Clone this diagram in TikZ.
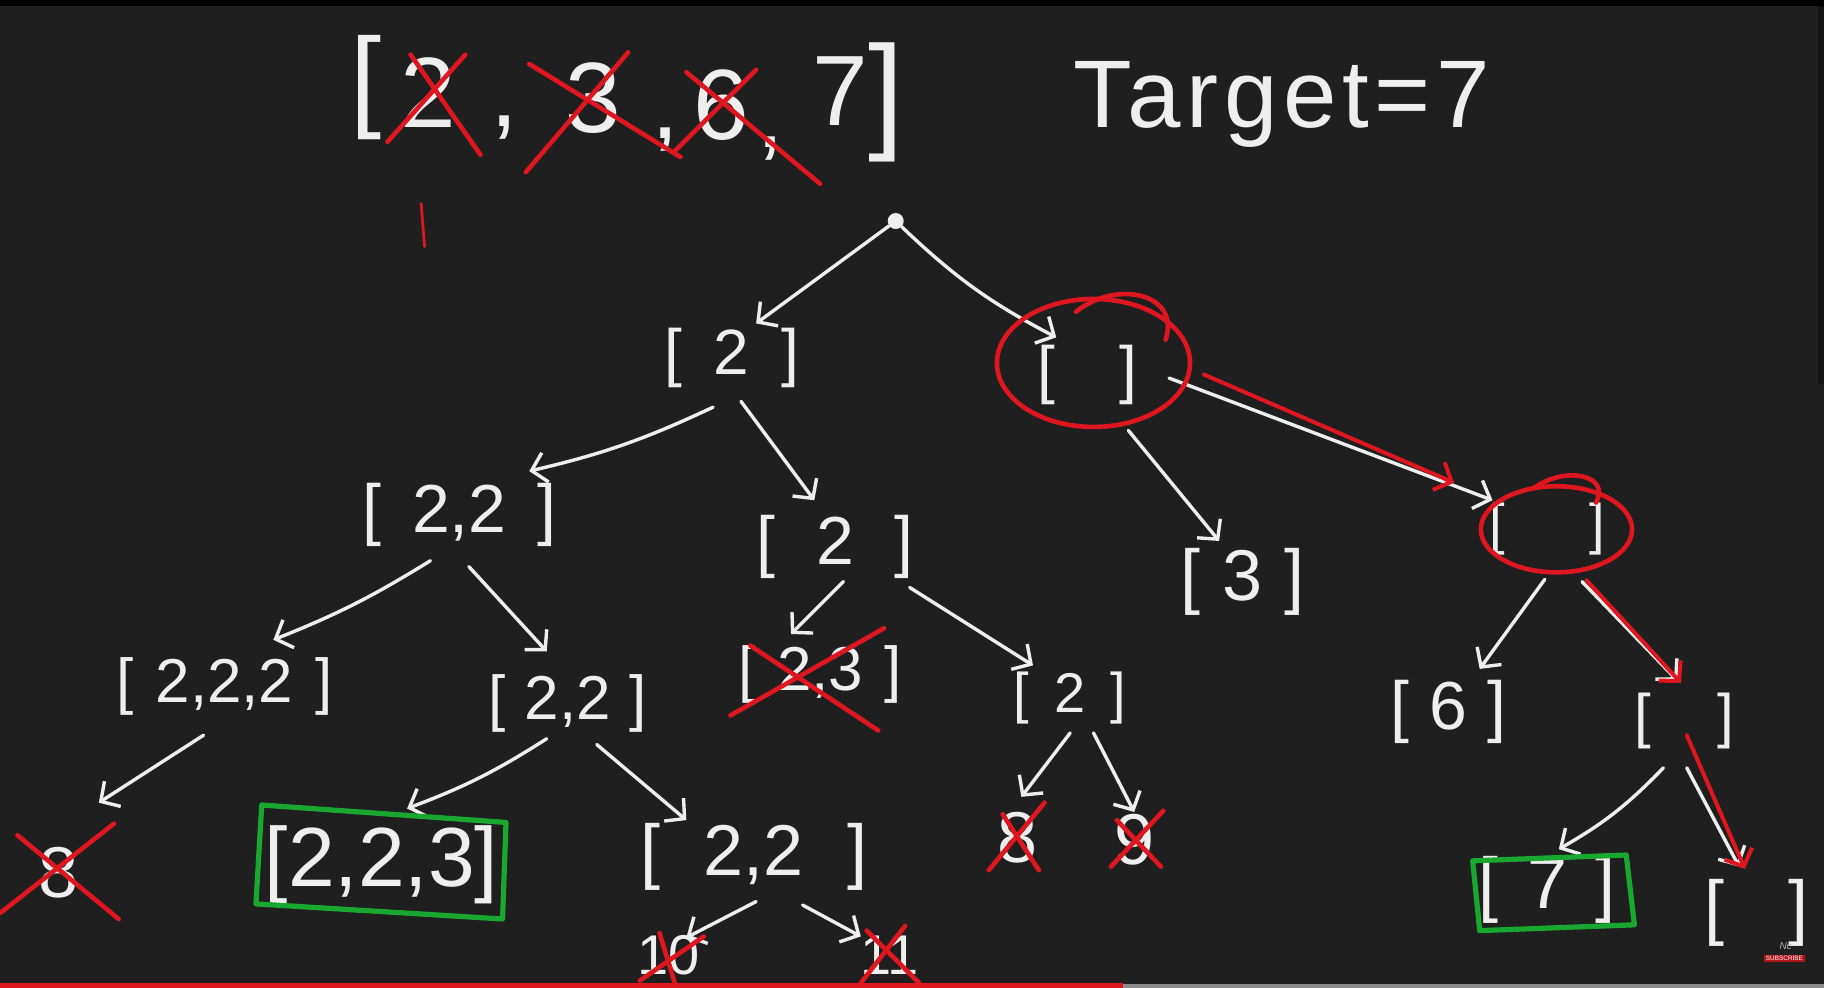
\documentclass[tikz,border=0pt]{standalone}
\usepackage{fontspec}
\setmainfont{Liberation Sans}
\usetikzlibrary{arrows.meta,calc}
\definecolor{bg}{RGB}{31,31,31}
\definecolor{chalk}{RGB}{238,238,238}
\definecolor{penred}{RGB}{222,22,32}
\definecolor{okgreen}{RGB}{24,168,48}
\newcommand{\lst}[2][0.5em]{[\hspace{#1}#2\hspace{#1}]}
\newcommand{\fs}[1]{\fontsize{#1}{#1}\selectfont}
\begin{document}
\begin{tikzpicture}[x=0.58165pt,y=-0.58165pt,
  every node/.style={text=chalk, inner sep=1pt},
  arr/.style={draw=chalk, line width=1.7pt, line cap=round, line join=round, -{Straight Barb[length=7pt,width=15pt,line width=1.7pt]}},
  redarr/.style={draw=penred, line width=2pt, line cap=round, line join=round, -{Straight Barb[length=7pt,width=15pt,line width=2pt]}},
  cross/.style={draw=penred, line width=2.3pt, line cap=round},
  ring/.style={draw=penred, line width=2.3pt, line cap=round},
  okbox/.style={draw=okgreen, line width=2.6pt, line join=round},
]
\fill[bg] (0,0) rectangle (1568,849);
\useasboundingbox (0,0) rectangle (1568,849);
\clip (0,0) rectangle (1568,849);
\fill[black] (0,0) rectangle (1568,5);
\fill[black!40!bg] (1563,5) rectangle (1568,330);

% ---------- top array ----------
\node[font=\fs{56}] (lb) at (315,75) {[};
\node[font=\fs{50}] (a2) at (368,80) {2};
\node[font=\fs{50}] (c1) at (434,110) {,};
\node[font=\fs{50}] (a3) at (510,84) {3};
\node[font=\fs{50}] (c2) at (572,120) {,};
\node[font=\fs{50}] (a6) at (620,90) {6};
\node[font=\fs{50}] (c3) at (662,128) {,};
\node[font=\fs{50}] (a7) at (722,78) {7};
\node[font=\fs{64}] (rb) at (762,88) {]};
\draw[cross] (333,122) -- (400,47);
\draw[cross] (353,47) -- (413,133);
\draw[cross] (452,148) -- (540,45);
\draw[cross] (455,55) -- (585,135);
\draw[cross] (580,130) -- (650,60);
\draw[cross] (590,62) -- (705,158);
\draw[draw=penred, line width=1.4pt, line cap=round] (362,175) -- (365,212);

\node[font=\fs{48}\addfontfeature{LetterSpace=6}] (target) at (1102,90) {Target=7};

% ---------- tree nodes ----------
\node[circle, fill=chalk, minimum size=8pt, inner sep=0pt] (root) at (770,190) {};
\node[font=\fs{32}] (n1) at (629,308) {\lst{2}};
\node[font=\fs{32}] (n2) at (935,322) {[\hspace{1em}]};
\node[font=\fs{34}] (n11) at (395,443) {\lst[0.45em]{2,2}};
\node[font=\fs{34}] (n12) at (718,470) {\lst[0.6em]{2}};
\node[font=\fs{36}] (n21) at (1068,500) {\lst[0.3em]{3}};
\node[font=\fs{28}] (n22) at (1330,455) {[\hspace{1.5em}]};
\node[font=\fs{31}] (n111) at (193,590) {\lst[0.35em]{2,2,2}};
\node[font=\fs{31}] (n112) at (488,605) {\lst[0.3em]{2,2}};
\node[font=\fs{31}] (n121) at (705,580) {\lst[0.35em]{2,3}};
\node[font=\fs{28}] (n122) at (920,600) {\lst[0.45em]{2}};
\node[font=\fs{34}] (n221) at (1245,612) {\lst[0.3em]{6}};
\node[font=\fs{30}] (n222) at (1448,620) {[\hspace{1.1em}]};
\node[font=\fs{36}] (n1111) at (50,750) {8};
\node[font=\fs{42}] (n1121) at (328,743) {[2,2,3]};
\node[font=\fs{36}] (n1122) at (648,737) {\lst[0.6em]{2,2}};
\node[font=\fs{36}] (n1221) at (875,720) {8};
\node[font=\fs{36}] (n1222) at (975,722) {9};
\node[font=\fs{36}] (n2221) at (1330,765) {\lst[0.4em]{7}};
\node[font=\fs{36}] (n2222) at (1510,785) {[\hspace{0.9em}]};
\node[font=\fs{28}] (n11221) at (575,821) {10};
\node[font=\fs{28}] (n11222) at (765,821) {11};

% ---------- connectors ----------
\draw[arr] (root) -- ($(n1)+(21,-30)$);
\draw[arr] (root) to[bend right=8] ($(n2)+(-27,-32)$);
\draw[arr] ($(n1)+(-16,42)$) to[bend left=6] ($(n11)+(60,-38)$);
\draw[arr] ($(n1)+(8,37)$) -- ($(n12)+(-18,-40)$);
\draw[arr] ($(n2)+(35,48)$) -- ($(n21)+(-20,-35)$);
\draw[arr] ($(n2)+(70,3)$) -- ($(n22)+(-47,-25)$);
\draw[redarr] ($(n2)+(100,0)$) -- ($(n22)+(-80,-40)$);
\draw[arr] ($(n22)+(-2,43)$) -- ($(n221)+(27,-37)$);
\draw[arr] ($(n22)+(30,45)$) -- ($(n222)+(-6,-35)$);
\draw[redarr] ($(n22)+(34,44)$) -- ($(n222)+(-3,-33)$);
\draw[arr] ($(n222)+(-18,40)$) to[bend left=8] ($(n2221)+(10,-35)$);
\draw[arr] ($(n222)+(2,40)$) -- ($(n2222)+(-15,-40)$);
\draw[redarr] ($(n222)+(2,12)$) -- ($(n2222)+(-10,-38)$);
\draw[arr] ($(n11)+(-25,39)$) to[bend left=5] ($(n111)+(42,-40)$);
\draw[arr] ($(n11)+(8,44)$) -- ($(n112)+(-18,-45)$);
\draw[arr] ($(n12)+(7,30)$) -- ($(n121)+(-25,-35)$);
\draw[arr] ($(n12)+(64,35)$) -- ($(n122)+(-32,-28)$);
\draw[arr] ($(n122)+(0,30)$) -- ($(n1221)+(3,-35)$);
\draw[arr] ($(n122)+(20,30)$) -- ($(n1222)+(0,-24)$);
\draw[arr] ($(n111)+(-18,42)$) -- ($(n1111)+(35,-60)$);
\draw[arr] ($(n112)+(-18,30)$) to[bend left=6] ($(n1121)+(22,-48)$);
\draw[arr] ($(n112)+(25,35)$) -- ($(n1122)+(-58,-32)$);
\draw[arr] ($(n1122)+(2,38)$) -- ($(n11221)+(15,-15)$);
\draw[arr] ($(n1122)+(42,41)$) -- ($(n11222)+(-25,-16)$);

% ---------- red rings ----------
\draw[ring] (940,312) ellipse [x radius=83, y radius=55];
\draw[ring] (925,268) .. controls (960,240) and (1015,252) .. (1002,292);
\draw[ring] (1338,455) ellipse [x radius=65, y radius=37];
\draw[ring] (1318,420) .. controls (1345,400) and (1385,408) .. (1372,432);

% ---------- crosses ----------
\draw[cross] (628,615) -- (760,540);
\draw[cross] (645,555) -- (755,628);
\draw[cross] (850,748) -- (898,690);
\draw[cross] (862,700) -- (893,748);
\draw[cross] (955,745) -- (1000,697);
\draw[cross] (960,705) -- (998,745);
\draw[cross] (0,785) -- (98,708);
\draw[cross] (15,718) -- (102,790);
\draw[cross] (550,843) -- (605,805);
\draw[cross] (567,802) -- (580,845);
\draw[cross] (740,845) -- (778,796);
\draw[cross] (745,800) -- (790,845);

% ---------- green boxes ----------
\draw[okbox] (225,692) -- (435,707) -- (432,790) -- (220,777) -- cycle;
\draw[okbox] (1266,740) -- (1398,735) -- (1405,795) -- (1272,800) -- cycle;

% ---------- footer ----------
\node[font=\fs{5}\itshape, text=black!30] (nc) at (1535,813) {Nc};
\node[fill=penred!80!black, font=\fs{3.2}, text=white, inner sep=0.8pt] (sub) at (1534,824) {SUBSCRIBE};
\fill[penred] (0,845) rectangle (965,849);
\fill[black!45] (965,846) rectangle (1568,849);
\end{tikzpicture}
\end{document}
